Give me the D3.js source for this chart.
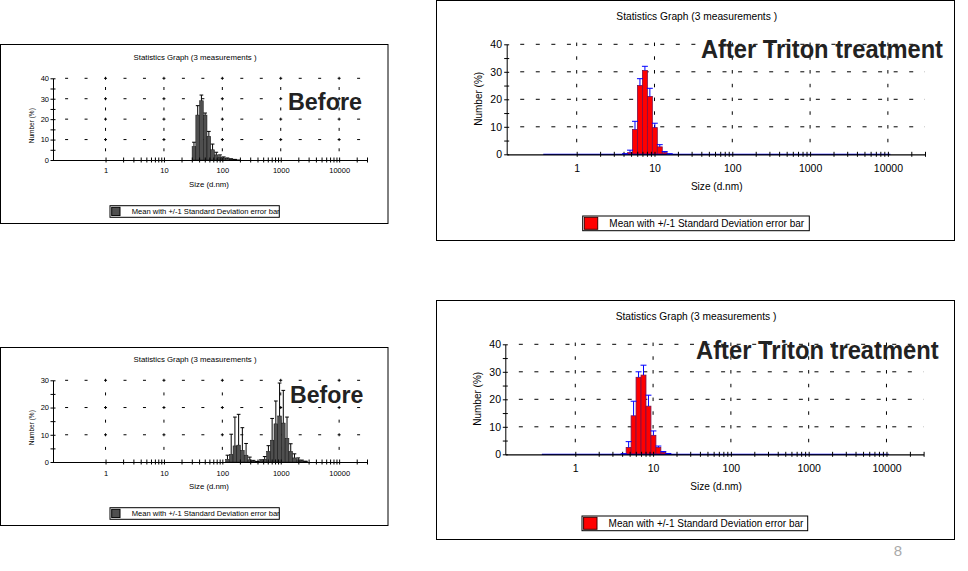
<!DOCTYPE html>
<html><head><meta charset="utf-8">
<script src="https://cdn.jsdelivr.net/npm/d3@7"></script>
<style>
body{margin:0;background:#fff}
svg{display:block}
text{font-family:"Liberation Sans",Arial,sans-serif}
</style>
</head><body>
<svg id="c" width="968" height="571"></svg>
<script>
// Malvern size classes (d.nm)
const sizeClasses = [0.4,0.4632,0.5365,0.6213,0.7195,0.8332,0.9649,1.117,1.294,1.499,1.736,2.01,2.328,2.696,3.122,3.615,4.187,4.849,5.615,6.503,7.531,8.721,10.1,11.7,13.54,15.69,18.17,21.04,24.36,28.21,32.67,37.84,43.82,50.75,58.77,68.06,78.82,91.28,105.7,122.4,141.8,164.2,190.1,220.2,255.0,295.3,342.0,396.1,458.7,531.2,615.1,712.4,825.0,955.4,1106,1281,1484,1718,1990,2305,2669,3091,3580,4145,4801,5560,6439,7456,8635,10000];

// Top-left "Before"
const beforeA_sizes = [32.67,37.84,43.82,50.75,58.77,68.06,78.82,91.28,105.7,122.4,141.8,164.2,190.1];
const beforeA_mean  = [6.5,22.0,29.0,22.0,11.6,5.0,2.5,1.5,1.0,0.7,0.4,0.2,0.1];
const beforeA_sd    = [2.2,4.6,2.8,1.0,2.4,2.8,1.3,1.0,0.5,0.3,0.2,0.1,0.0];

// Top-right "After Triton treatment"
const afterA_sizes = [4.187,4.849,5.615,6.503,7.531,8.721,10.1,11.7,13.54,15.69];
const afterA_mean  = [0.1,0.6,9.0,25.0,30.5,21.0,9.7,2.7,0.6,0.1];
const afterA_sd    = [0.1,0.9,3.0,2.5,1.5,3.0,1.6,0.8,0.4,0.1];

// Bottom-left "Before"
const beforeB_sizes = [122.4,141.8,164.2,190.1,220.2,255.0,295.3,342.0,396.1,458.7,531.2,615.1,712.4,825.0,955.4,1106,1281,1484,1718,1990,2305,2669];
const beforeB_mean  = [1.0,2.8,5.9,6.2,4.3,2.5,0.8,0.3,0.1,0.4,1.0,3.9,8.0,14.0,16.9,14.3,8.7,3.9,1.5,0.8,0.4,0.2];
const beforeB_sd    = [1.5,7.4,10.6,11.3,8.3,4.3,1.0,0.3,0.1,0.4,1.0,2.1,8.0,8.4,12.1,12.0,7.8,2.8,1.5,0.7,0.3,0.1];

// Bottom-right "After Triton treatment"
const afterB_sizes = [4.187,4.849,5.615,6.503,7.531,8.721,10.1,11.7,13.54,15.69];
const afterB_mean  = [0.1,2.5,14.0,28.0,28.8,17.5,6.9,2.5,0.7,0.2];
const afterB_sd    = [0.1,2.1,5.3,2.0,3.6,4.0,1.6,0.5,0.3,0.1];

const xMajorTicks = [1,10,100,1000,10000];
const xTickLabels = ["1","10","100","1000","10000"];
const titleText = "Statistics Graph (3 measurements )";
const legendText = "Mean with +/-1 Standard Deviation error bar";
const xTitleText = "Size (d.nm)";
const yTitleText = "Number (%)";

const svg = d3.select("#c");
const X_DOMAIN = [0.126, 30000];

function binEdges(s) {
  const i = sizeClasses.indexOf(s);
  const prev = i > 0 ? sizeClasses[i-1] : s*s/sizeClasses[1];
  const next = i < sizeClasses.length-1 ? sizeClasses[i+1] : s*s/sizeClasses[i-1];
  return [Math.sqrt(prev*s), Math.sqrt(s*next)];
}

function drawPanel(cfg, sizes, mean, sd, yMax, id) {
  const g = svg.append("g");
  const [bx0, by0, bx1, by1] = cfg.box;
  g.append("rect").attr("x", bx0).attr("y", by0).attr("width", bx1-bx0).attr("height", by1-by0)
    .attr("fill", "#fff").attr("stroke", "#000").attr("stroke-width", 1);

  const x = d3.scaleLog().domain(X_DOMAIN).range(cfg.xr);
  const y = d3.scaleLinear().domain([0, yMax]).range(cfg.yr);
  const y0 = y(0), yTop = y(yMax);
  const decade = x(10) - x(1);

  // horizontal dashed grid
  const hp = decade / cfg.hDiv, hL = cfg.hDash;
  const yGrid = d3.range(10, yMax + 1, 10);
  let xs = x(1) + cfg.hPhase*hp - hL/2;
  while (xs - hp > cfg.xr[0] + 1) xs -= hp;
  g.selectAll(".hg").data(yGrid).join("line")
    .attr("x1", xs).attr("x2", cfg.xr[1]).attr("y1", d => y(d)).attr("y2", d => y(d))
    .attr("stroke", "#000").attr("stroke-width", 1)
    .attr("stroke-dasharray", `${hL} ${hp-hL}`);
  // vertical dashed grid at decades
  const vp = y(0) - y(5), vL = cfg.vDash;
  g.selectAll(".vg").data(xMajorTicks).join("line")
    .attr("x1", d => x(d)).attr("x2", d => x(d))
    .attr("y1", y(5) + vL/2).attr("y2", yTop - vL/2)
    .attr("stroke", "#000").attr("stroke-width", 1)
    .attr("stroke-dasharray", `${vL} ${vp-vL}`);

  // bars
  const data = sizes.map((s, i) => ({s, m: mean[i], sd: sd[i], e: binEdges(s)}));
  g.selectAll(".bar").data(data).join("rect")
    .attr("x", d => x(d.e[0])).attr("width", d => x(d.e[1]) - x(d.e[0]))
    .attr("y", d => y(d.m)).attr("height", d => y0 - y(d.m))
    .attr("fill", cfg.barFill).attr("stroke", cfg.barStroke).attr("stroke-width", cfg.barSW);

  // zero line
  if (cfg.zeroLine) {
    const e0 = binEdges(sizeClasses[0]), e1 = binEdges(sizeClasses[sizeClasses.length-1]);
    g.append("line").attr("x1", x(e0[0])).attr("x2", x(e1[1])).attr("y1", y0).attr("y2", y0)
      .attr("stroke", cfg.errColor).attr("stroke-width", 1.2);
  }

  // axes
  const minor = [];
  for (let k = 0; k <= 4; k++) for (let m = 1; m <= 9; m++) {
    const v = m * Math.pow(10, k);
    if (v <= X_DOMAIN[1] * 1.0001) minor.push(v);
  }
  const tk = 2.5;
  const pad = (cfg.labelBase - y0) - tk - 0.71*cfg.tickFs;
  const xAxis = d3.axisBottom(x).tickValues(minor).tickSizeInner(tk).tickSizeOuter(0).tickPadding(pad)
    .tickFormat(d => { const i = xMajorTicks.indexOf(d); return i >= 0 ? xTickLabels[i] : ""; });
  const gx = g.append("g").attr("transform", `translate(0,${y0})`).call(xAxis);
  gx.selectAll(".tick line").attr("y1", -tk).attr("stroke", "#000");
  gx.select(".domain").attr("stroke", "#000").attr("stroke-width", 1.2);
  gx.selectAll("text").attr("font-size", cfg.tickFs).attr("fill", "#000").attr("font-family", "Liberation Sans, Arial, sans-serif");

  const yTicks = d3.range(0, yMax + 1, 5);
  const yAxis = d3.axisLeft(y).tickValues(yTicks).tickSizeInner(tk).tickSizeOuter(0)
    .tickPadding(cfg.xr[0] - cfg.yLabelRight - tk)
    .tickFormat(d => d % 10 === 0 ? String(d) : "");
  const gy = g.append("g").attr("transform", `translate(${cfg.xr[0]},0)`).call(yAxis);
  gy.selectAll(".tick line").attr("x1", tk).attr("stroke", "#000");
  gy.select(".domain").attr("stroke", "#000").attr("stroke-width", 1);
  gy.selectAll("text").attr("font-size", cfg.tickFs).attr("fill", "#000").attr("font-family", "Liberation Sans, Arial, sans-serif");

  // error bars (upper)
  const cap = d => Math.max(2.5, (x(d.e[1]) - x(d.e[0])) * cfg.capFrac);
  const eb = data.filter(d => d.sd > 0.05);
  g.selectAll(".ev").data(eb).join("line")
    .attr("x1", d => x(d.s)).attr("x2", d => x(d.s))
    .attr("y1", d => y(d.m)).attr("y2", d => y(d.m + d.sd))
    .attr("stroke", cfg.errColor).attr("stroke-width", 1);
  g.selectAll(".ec").data(eb).join("line")
    .attr("x1", d => x(d.s) - cap(d)/2).attr("x2", d => x(d.s) + cap(d)/2)
    .attr("y1", d => y(d.m + d.sd)).attr("y2", d => y(d.m + d.sd))
    .attr("stroke", cfg.errColor).attr("stroke-width", 1);

  // texts
  g.append("text").attr("x", cfg.title.x).attr("y", cfg.title.y).attr("text-anchor", "middle")
    .attr("font-size", cfg.title.fs).attr("textLength", cfg.title.tl).attr("lengthAdjust", "spacingAndGlyphs")
    .text(titleText);
  g.append("text").attr("x", cfg.xTitle.x).attr("y", cfg.xTitle.y).attr("text-anchor", "middle")
    .attr("font-size", cfg.xTitle.fs).text(xTitleText);
  g.append("text").attr("transform", `translate(${cfg.yTitle.x},${cfg.yTitle.y}) rotate(-90)`)
    .attr("text-anchor", "middle").attr("font-size", cfg.yTitle.fs).text(yTitleText);

  // legend
  const L = cfg.legend;
  g.append("clipPath").attr("id", "clip" + id).append("rect")
    .attr("x", L.box[0]).attr("y", L.box[1]).attr("width", L.box[2]-L.box[0]).attr("height", L.box[3]-L.box[1]);
  g.append("rect").attr("x", L.box[0]).attr("y", L.box[1]).attr("width", L.box[2]-L.box[0]).attr("height", L.box[3]-L.box[1])
    .attr("fill", "#fff").attr("stroke", "#000").attr("stroke-width", 1);
  g.append("rect").attr("x", L.sw[0]).attr("y", L.sw[1]).attr("width", L.sw[2]).attr("height", L.sw[3])
    .attr("fill", cfg.barFill).attr("stroke", cfg.swStroke).attr("stroke-width", 1);
  g.append("text").attr("x", L.tx).attr("y", L.ty).attr("font-size", L.fs)
    .attr("clip-path", `url(#clip${id})`).text(legendText);

  // annotation
  g.append("text").attr("x", cfg.big.x).attr("y", cfg.big.y).attr("font-size", cfg.big.fs)
    .attr("font-weight", "bold").attr("fill", "#222")
    .attr("textLength", cfg.big.tl).attr("lengthAdjust", "spacingAndGlyphs").text(cfg.big.text);
}

const leftStyle = {barFill: "#4f4f4f", barStroke: "#111", barSW: 0.5, errColor: "#000", swStroke: "#000",
  zeroLine: false, hDiv: 3, hPhase: 0, hDash: 3, vDash: 3, capFrac: 1.0, tickFs: 7.5};
const rightStyle = {barFill: "#ff0000", barStroke: "#7a1048", barSW: 0.8, errColor: "#0000ff", swStroke: "#400000",
  zeroLine: true, hDiv: 5, hPhase: 0.5, hDash: 4, vDash: 3.5, capFrac: 1.2, tickFs: 10.5};

const cfgTL = Object.assign({}, leftStyle, {
  box: [0.5, 44.5, 388, 223.5], xr: [53, 367], yr: [160, 78.3],
  labelBase: 173, yLabelRight: 49,
  title: {x: 195, y: 60, fs: 8, tl: 123},
  xTitle: {x: 209, y: 187, fs: 7.8},
  yTitle: {x: 34, y: 125.7, fs: 6.5},
  legend: {box: [110, 205.7, 279.3, 217.3], sw: [111.7, 207.3, 8.3, 8.3], tx: 131.7, ty: 214.3, fs: 7.6},
  big: {text: "Before", x: 288, y: 110, fs: 23, tl: 74}
});
const cfgBL = Object.assign({}, leftStyle, {
  box: [0.5, 347.5, 388, 525.5], xr: [53, 367], yr: [462, 380.3],
  labelBase: 476, yLabelRight: 49,
  title: {x: 195, y: 362, fs: 8, tl: 123},
  xTitle: {x: 209, y: 489, fs: 7.8},
  yTitle: {x: 34, y: 427.7, fs: 6.5},
  legend: {box: [110, 507.7, 279.3, 519.3], sw: [111.7, 509.3, 8.3, 8.3], tx: 131.7, ty: 516.3, fs: 7.6},
  big: {text: "Before", x: 290, y: 403.3, fs: 23, tl: 73.3}
});
const cfgTR = Object.assign({}, rightStyle, {
  box: [436.5, 0.5, 954.5, 240.5], xr: [506.7, 925], yr: [154.3, 44.3],
  labelBase: 171.8, yLabelRight: 502,
  title: {x: 696.7, y: 20, fs: 10.2, tl: 160.7},
  xTitle: {x: 716.7, y: 190, fs: 10.1},
  yTitle: {x: 482, y: 98.8, fs: 10},
  legend: {box: [582.7, 216, 809.3, 230.7], sw: [584.3, 217.3, 13.4, 12], tx: 609.3, ty: 227.3, fs: 10},
  big: {text: "After  Triton treatment", x: 701, y: 58.3, fs: 25, tl: 242}
});
const cfgBR = Object.assign({}, rightStyle, {
  box: [436.5, 300.5, 954.5, 539.5], xr: [505.3, 923.6], yr: [454.3, 344.3],
  labelBase: 471.8, yLabelRight: 501,
  title: {x: 696, y: 320, fs: 10.2, tl: 160.7},
  xTitle: {x: 716, y: 490, fs: 10.1},
  yTitle: {x: 481, y: 398.8, fs: 10},
  legend: {box: [582, 516, 807.7, 530.7], sw: [583.6, 517.3, 13.4, 12], tx: 608.6, ty: 527.3, fs: 10},
  big: {text: "After  Triton treatment", x: 696, y: 359.3, fs: 25, tl: 242.7}
});

drawPanel(cfgTL, beforeA_sizes, beforeA_mean, beforeA_sd, 40, "a");
drawPanel(cfgTR, afterA_sizes, afterA_mean, afterA_sd, 40, "b");
drawPanel(cfgBL, beforeB_sizes, beforeB_mean, beforeB_sd, 30, "c");
drawPanel(cfgBR, afterB_sizes, afterB_mean, afterB_sd, 40, "d");

svg.append("text").attr("x", 898).attr("y", 556).attr("text-anchor", "middle")
  .attr("font-size", 15).attr("fill", "#aaa").text("8");
</script>
</body></html>
